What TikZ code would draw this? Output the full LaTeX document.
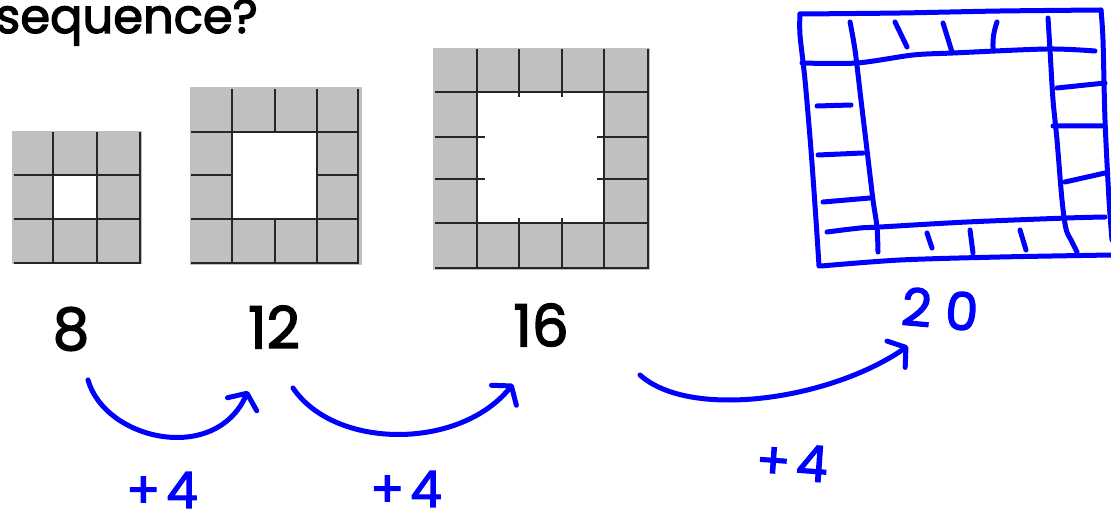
\documentclass[tikz,border=0pt]{standalone}
\usepackage{fontspec}
\setmainfont{Poppins}
\newfontfamily\medfont[FakeBold=2.5]{Poppins}
\usetikzlibrary{arrows.meta}
\definecolor{cellgray}{HTML}{C0C0C0}
\definecolor{penblue}{HTML}{0000FF}
\begin{document}
\begin{tikzpicture}[x=1pt,y=-1pt,
  gridline/.style={line width=2.8pt, black!85, line cap=rect},
  hand/.style={penblue, line width=5pt, line cap=round, line join=round},
  arr/.style={hand, -{Straight Barb[length=12pt,width=32pt,round]}},
  num/.style={font=\fontsize{58}{60}\medfont, inner sep=0pt},
  handtext/.style={text=penblue, font=\fontsize{50}{52}\medfont, inner sep=0pt}]
\useasboundingbox (0,0) rectangle (1111,524);

% title
\node[anchor=base east, font=\fontsize{48}{48}\medfont, inner sep=0pt] (title) at (258,33) {sequence?};

% grid 1 (3x3)
\fill[cellgray] (12,131) rectangle (142,264);
\fill[white] (53,175) rectangle (97,219);
\draw[gridline] (53,133) -- (53,263) (97,133) -- (97,263) (140,133) -- (140,263);
\draw[gridline] (15,175) -- (140,175) (15,219) -- (140,219) (15,263) -- (140,263);

% grid 2 (4x4)
\fill[cellgray] (190,87) rectangle (362,265);
\fill[white] (232,132) rectangle (317,219);
\draw[gridline] (232,90) -- (232,263) (317,90) -- (317,263) (358,90) -- (358,263)
  (275,90) -- (275,132) (275,219) -- (275,263);
\draw[gridline] (192,132) -- (358,132) (192,219) -- (358,219) (192,263) -- (358,263)
  (192,175) -- (232,175) (317,175) -- (358,175);

% grid 3 (5x5)
\fill[cellgray] (433,48) rectangle (650,270);
\fill[white] (477,92) rectangle (604,223);
\draw[gridline] (477,50) -- (477,268) (604,50) -- (604,268) (648,50) -- (648,268)
  (519,50) -- (519,96) (519,219) -- (519,268) (562,50) -- (562,96) (562,219) -- (562,268);
\draw[gridline] (436,92) -- (648,92) (436,223) -- (648,223) (436,268) -- (648,268)
  (436,137) -- (484,137) (598,137) -- (648,137) (436,179) -- (484,179) (598,179) -- (648,179);

% hand-drawn frame (20)
\draw[hand] plot[smooth, tension=0.5] coordinates {(1112,255) (1000,257) (900,260) (821,266)};
\draw[hand] plot[smooth, tension=0.5] coordinates {(819,266) (816,220) (811,150) (805,80) (800,35) (800,14)};
\draw[hand] plot[smooth, tension=0.5] coordinates {(800,14) (900,13) (1000,11) (1101,10)};
\draw[hand] plot[smooth, tension=0.5] coordinates {(1101,10) (1103,40) (1105,120) (1109,200) (1112,240)};
% inner square
\draw[hand] plot[smooth, tension=0.5] coordinates {(802,63) (857,63) (913,55) (953,53) (1047,49) (1095,51)};
\draw[hand] plot[smooth, tension=0.5] coordinates {(850,22) (855,50) (861,100) (867,150) (873,200) (877,227) (878,252)};
\draw[hand] plot[smooth, tension=0.5] coordinates {(827,232) (860,228) (880,227) (967,222) (1067,218) (1105,217)};
\draw[hand] plot[smooth, tension=0.5] coordinates {(1048,18) (1050,50) (1053,100) (1057,140) (1062,200) (1066,229) (1071,240) (1077,252)};
% ticks
\draw[hand] (895,22) -- (907,47) (943,23) -- (952,52) (997,22) to[bend right=10] (993,48);
\draw[hand] (817,106) -- (851,105) (818,155) -- (863,153) (823,202) -- (870,198);
\draw[hand] (1057,88) -- (1105,83) (1053,126) -- (1103,126) (1065,182) -- (1105,173);
\draw[hand] (927,233) -- (932,248) (970,230) -- (973,253) (1020,230) -- (1026,250);

% numbers
\node[num] (n8) at (71,329) {8};
\node[num] (n12) at (274,327) {12};
\node[num] (n16) at (541,325) {16};
\node[handtext, font=\fontsize{52}{54}\medfont, rotate=-5] (n20) at (940,309) {2\kern14pt0};

% arrows
\coordinate (a1s) at (88,380);  \coordinate (a1e) at (248,391);
\coordinate (a2s) at (293,388); \coordinate (a2e) at (513,384);
\coordinate (a3s) at (640,375); \coordinate (a3e) at (908,346);
\draw[arr] (a1s) .. controls (105,440) and (215,465) .. (a1e);
\draw[arr] (a2s) .. controls (335,450) and (460,450) .. (a2e);
\draw[arr] (a3s) .. controls (690,420) and (830,400) .. (a3e);

% +4 labels
\node[handtext] (p1) at (162,490) {+\kern6pt4};
\node[handtext] (p2) at (406,489) {+\kern6pt4};
\node[handtext, rotate=-4] (p3) at (792,462) {+\kern6pt4};
\end{tikzpicture}
\end{document}
